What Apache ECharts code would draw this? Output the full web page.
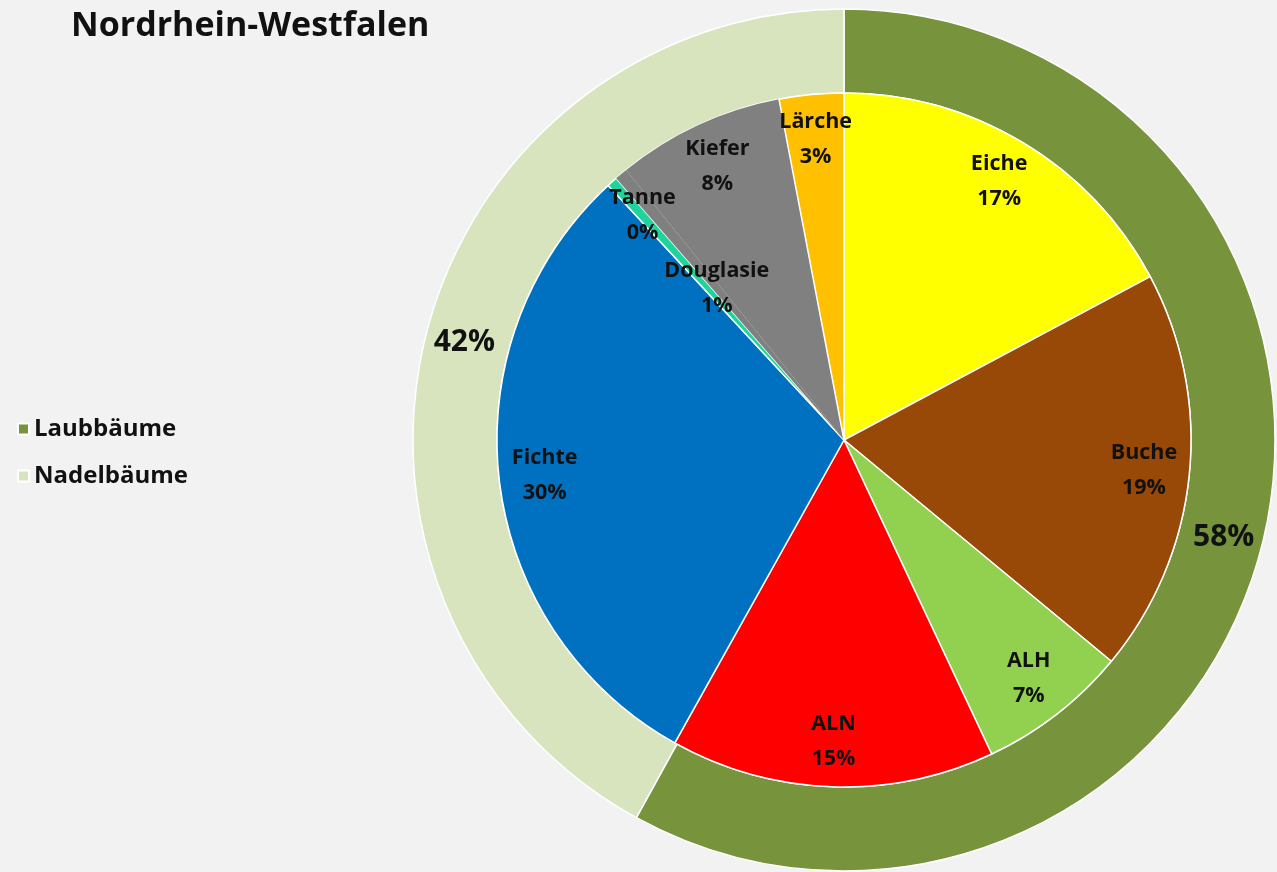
<!DOCTYPE html>
<html>
<head>
<meta charset="utf-8">
<script src="https://cdn.jsdelivr.net/npm/echarts@6/dist/echarts.min.js"></script>
<style>
html,body{margin:0;padding:0;background:#f2f2f2;}
#c{width:1277px;height:872px;}
</style>
</head>
<body>
<div id="c"></div>
<script>
const title = 'Nordrhein-Westfalen';
const groupNames = ['Laubbäume', 'Nadelbäume'];
const groupValues = [58, 42];
const speciesNames = ['Eiche', 'Buche', 'ALH', 'ALN', 'Fichte', 'Tanne', 'Douglasie', 'Kiefer', 'Lärche'];
const speciesValues = [17.2, 18.8, 7.0, 15.1, 30.0, 0.49, 0.6, 7.8, 3.0];

const groupColors = ['#77933c', '#d7e4bd'];
const speciesColors = ['#ffff00', '#984807', '#92d050', '#ff0000', '#0070c0', '#1ed49c', '#808080', '#808080', '#ffc000'];

const font = '"Open Sans", Lato, sans-serif';
const center = [844, 440];
const pct = p => Math.round(p.percent) + '%';

const chart = echarts.init(document.getElementById('c'));
const mainData = speciesNames.map((n, i) => {
  const noBorder = n === 'Douglasie' || n === 'Kiefer';
  return {name: n, value: speciesValues[i], itemStyle: {color: speciesColors[i], borderWidth: noBorder ? 0 : 1.5}};
});
const labelData = speciesNames.map((n, i) => ({
  name: n, value: speciesValues[i],
  label: {show: n !== 'Douglasie'}
}));
const douglasData = speciesNames.map((n, i) => ({
  name: n, value: speciesValues[i],
  label: {show: n === 'Douglasie'}
}));
const innerLabel = {
  position: 'inside',
  formatter: p => p.name + '\n' + pct(p),
  fontFamily: font, fontWeight: 'bold', fontSize: 21.5, lineHeight: 35, color: '#111'
};
chart.setOption({
  backgroundColor: '#f2f2f2',
  animation: false,
  title: {
    text: title, left: 66, top: 4,
    textStyle: {fontFamily: font, fontWeight: 'bold', fontSize: 34, color: '#111'}
  },
  legend: {
    data: groupNames, orient: 'vertical', left: 12, top: 412,
    itemWidth: 11, itemHeight: 11, itemGap: 23, icon: 'rect',
    textStyle: {fontFamily: font, fontWeight: 'bold', fontSize: 24, color: '#111'}
  },
  series: [
    {
      type: 'pie', name: 'Gruppen', center: center, radius: [347, 431],
      startAngle: 90, clockwise: true, silent: true,
      itemStyle: {borderColor: '#ffffff', borderWidth: 1.5},
      label: {position: 'inside', formatter: pct, fontFamily: font, fontWeight: 'bold', fontSize: 30, color: '#111'},
      labelLine: {show: false},
      data: groupNames.map((n, i) => ({name: n, value: groupValues[i], itemStyle: {color: groupColors[i]}}))
    },
    {
      type: 'pie', name: 'Baumarten', center: center, radius: [0, 347],
      startAngle: 90, clockwise: true, silent: true,
      itemStyle: {borderColor: '#ffffff', borderWidth: 1.5},
      label: {show: false}, labelLine: {show: false},
      data: mainData
    },
    {
      type: 'pie', name: 'BaumartenLabels', center: center, radius: [250, 347],
      startAngle: 90, clockwise: true, silent: true,
      itemStyle: {color: 'rgba(0,0,0,0)', borderWidth: 0},
      label: innerLabel, labelLine: {show: false},
      data: labelData
    },
    {
      type: 'pie', name: 'DouglasieLabel', center: center, radius: [0, 390],
      startAngle: 90, clockwise: true, silent: true,
      itemStyle: {color: 'rgba(0,0,0,0)', borderWidth: 0},
      label: innerLabel, labelLine: {show: false},
      data: douglasData
    }
  ]
});
</script>
</body>
</html>
